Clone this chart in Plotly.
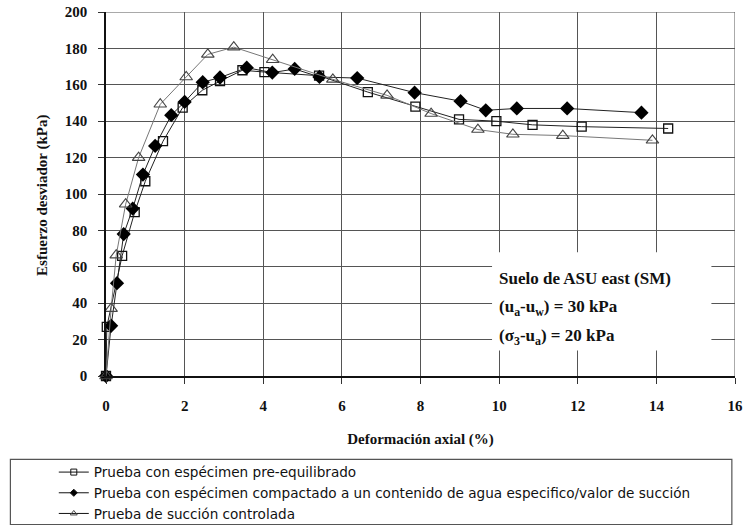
import plotly.graph_objects as go

# Deviator stress vs axial strain for three test procedures (ASU east soil, SM)
x_pre = [0, 0.02, 0.41, 0.73, 1.0, 1.45, 1.95, 2.45, 2.9, 3.47, 4.03, 5.42, 6.66, 7.87, 8.98, 9.93, 10.85, 12.1, 14.3]
y_pre = [0, 27, 66, 90, 107, 129, 147.5, 157, 162, 168, 167, 165, 156, 148, 141, 140, 138, 137, 136]

x_comp = [0, 0.13, 0.28, 0.45, 0.68, 0.94, 1.25, 1.66, 2.0, 2.46, 2.9, 3.58, 4.23, 4.8, 5.43, 6.39, 7.85, 9.02, 9.66, 10.45, 11.73, 13.62]
y_comp = [0, 27.6, 51, 78, 92, 110.7, 126.4, 143.3, 150.6, 161.4, 164, 169.4, 166.7, 168.7, 164.3, 163.7, 155.7, 151, 146, 147, 147, 144.7]

x_ctrl = [0, 0.13, 0.26, 0.5, 0.83, 1.38, 2.04, 2.59, 3.25, 4.24, 5.77, 7.15, 8.27, 9.46, 10.35, 11.62, 13.9]
y_ctrl = [0, 37, 66.4, 94.4, 120, 149.3, 164.3, 176.7, 180.7, 173.8, 163, 154.2, 144.2, 135.4, 132.8, 132.1, 129.5]

names = [
    "Prueba con espécimen pre-equilibrado",
    "Prueba con espécimen compactado a un contenido de agua especifico/valor de succión",
    "Prueba de succión controlada",
]

x_ticks = list(range(0, 17, 2))
y_ticks = list(range(0, 201, 20))

serif = "Liberation Serif, Times New Roman, serif"
sans = "DejaVu Sans, Liberation Sans, sans-serif"

styles = [
    dict(line=dict(color="#222", width=1), symbol="square-open", mcolor="#111", size=9, lw=1.3, lsize=6),
    dict(line=dict(color="#222", width=1), symbol="diamond", mcolor="#000", size=11, lw=0, lsize=5.5),
    dict(line=dict(color="#777", width=1), symbol="triangle-up-open", mcolor="#444", size=11, lw=1.1, lsize=6),
]
series = [(x_pre, y_pre), (x_comp, y_comp), (x_ctrl, y_ctrl)]

fig = go.Figure()
for (xs, ys), name, st in zip(series, names, styles):
    fig.add_trace(go.Scatter(
        x=xs, y=ys, name=name, mode="lines+markers",
        line=st["line"],
        marker=dict(symbol=st["symbol"], size=st["size"], color=st["mcolor"], line=dict(width=st["lw"])),
        cliponaxis=False, showlegend=False,
    ))
# legend keys with smaller markers; their single point sits below the axis range and is clipped
for name, st in zip(names, styles):
    fig.add_trace(go.Scatter(
        x=[0], y=[-100], name=name, mode="lines+markers",
        line=dict(color="#111", width=1),
        marker=dict(symbol=st["symbol"], size=st["lsize"], color=st["mcolor"], line=dict(width=1)),
        showlegend=True, hoverinfo="skip",
    ))

# white panel behind the soil/stress-state note, hiding the grid there
fig.add_shape(type="rect", xref="x", yref="y", x0=9.82, x1=15.4, y0=14, y1=68,
              fillcolor="white", line=dict(width=0), layer="between")

# closing grid lines on the top and right edges
fig.add_shape(type="line", xref="x", yref="y", x0=16, x1=16, y0=0, y1=200,
              line=dict(color="#555", width=1), layer="between")
fig.add_shape(type="line", xref="x", yref="y", x0=0, x1=16, y0=200, y1=200,
              line=dict(color="#555", width=1), layer="between")

note_lines = [
    "Suelo de ASU east (SM)",
    "(u<sub>a</sub>-u<sub>w</sub>) = 30 kPa",
    "(σ<sub>3</sub>-u<sub>a</sub>) = 20 kPa",
]
for i, txt in enumerate(note_lines):
    fig.add_annotation(
        x=9.95, y=53.8 - i * 16.2, xref="x", yref="y", text=txt, showarrow=False,
        xanchor="left", yanchor="middle", align="left",
        font=dict(family=serif, size=17, color="#111", weight="bold"),
    )

# y-axis title
fig.add_annotation(
    x=-0.102, y=0.497, xref="paper", yref="paper", text="Esfuerzo desviador (kPa)",
    showarrow=False, textangle=-90, xanchor="center", yanchor="middle",
    font=dict(family=serif, size=15, color="#111", weight="bold"),
)

# frame around the legend below the chart
fig.add_shape(type="rect", xref="paper", yref="paper",
              x0=-0.152, x1=0.995, y0=-0.408, y1=-0.229,
              line=dict(color="#555", width=1.2), fillcolor="rgba(0,0,0,0)")

axis_common = dict(
    showgrid=True, gridcolor="#555", gridwidth=1,
    showline=True, linecolor="#111", linewidth=1.5,
    ticks="outside", ticklen=6, tickcolor="#333",
    tickfont=dict(family=serif, size=15, color="#111", weight="bold"),
    zeroline=False, automargin=True,
)

fig.update_xaxes(
    range=[0, 16], tickvals=x_ticks, ticktext=[str(v) for v in x_ticks],
    ticklabelstandoff=9,
    title=dict(text="Deformación axial (%)", standoff=21,
               font=dict(family=serif, size=15, color="#111", weight="bold")),
    **axis_common,
)
fig.update_yaxes(
    range=[0, 200], tickvals=y_ticks, ticktext=[str(v) for v in y_ticks],
    ticklabelstandoff=8,
    **axis_common,
)

fig.update_layout(
    width=747, height=525,
    margin=dict(l=106, r=12, t=12, b=149, autoexpand=False),
    plot_bgcolor="white", paper_bgcolor="white",
    showlegend=True,
    legend=dict(
        xref="container", yref="container",
        x=0.072, y=0.13, xanchor="left", yanchor="top",
        orientation="v", bgcolor="rgba(0,0,0,0)", borderwidth=0,
        font=dict(family=sans, size=13.6, color="#111"),
        tracegroupgap=0, itemwidth=30,
    ),
)

fig.write_html("out.html")
